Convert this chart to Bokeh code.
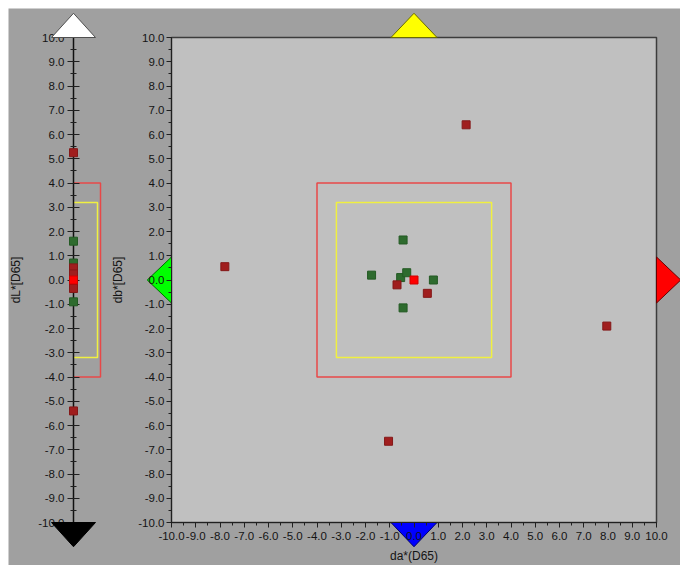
from bokeh.plotting import figure
from bokeh.models import Range1d, LinearAxis, SingleIntervalTicker, PrintfTickFormatter
from bokeh.embed import file_html
from bokeh.resources import INLINE

# ---------------- data ----------------
# standard
std_da = [0.0]
std_db = [0.0]
std_dL = [0.0]
# samples out of tolerance (dark red)
fail_da = [2.15, -7.8, 7.95, -1.05, -0.7, 0.55]
fail_db = [6.4, 0.55, -1.9, -6.65, -0.2, -0.55]
fail_dL = [5.25, -5.4, 0.5, 0.25, -0.1, -0.35]
# samples within tolerance (green)
pass_da = [-0.45, -1.75, -0.55, -0.3, 0.8, -0.45]
pass_db = [1.65, 0.2, 0.1, 0.3, 0.0, -1.15]
pass_dL = [1.6, 0.7, 0.3, 0.1, -0.2, -0.9]
# tolerance boxes
tol_outer = 4.0
tol_inner = 3.2
# axis limits
AX_MIN, AX_MAX = -10.0, 10.0

# ---------------- layout ----------------
OFF_X, OFF_Y = 8, 8          # white page margin (top / left)
W, H = 672, 557
PX = 24.25  # pixels per unit
# page positions of the main plot area
main_left, main_right, main_top, main_bottom = 171, 656, 37, 522
ruler_x = 73
page_l, page_t = OFF_X, OFF_Y
page_r, page_b = page_l + W, page_t + H

x_range = Range1d(AX_MIN - (main_left - page_l) / PX, AX_MAX + (page_r - main_right) / PX)
y_range = Range1d(AX_MIN - (page_b - main_bottom) / PX, AX_MAX + (main_top - page_t) / PX)

BG = "#a0a0a0"
p = figure(width=W, height=H, output_backend="svg", toolbar_location=None,
           x_range=x_range, y_range=y_range, x_axis_location=None, y_axis_location=None,
           min_border=0, background_fill_color=BG, border_fill_color=BG,
           outline_line_color=None, margin=(OFF_Y, 0, 0, OFF_X))
p.extra_x_ranges = {"ruler": Range1d(page_l - ruler_x, page_r - ruler_x)}
p.grid.visible = False

FONT = "Liberation Sans"
LABEL_COLOR = "#141414"


def style_axis(ax, label):
    ax.ticker = SingleIntervalTicker(interval=1, num_minor_ticks=2)
    ax.formatter = PrintfTickFormatter(format="%.1f")
    ax.bounds = (AX_MIN, AX_MAX)
    ax.axis_label = label
    ax.major_label_text_font = FONT
    ax.major_label_text_font_size = "11.5px"
    ax.major_label_text_color = LABEL_COLOR
    ax.axis_label_text_font = FONT
    ax.axis_label_text_font_size = "12px"
    ax.axis_label_text_font_style = "normal"
    ax.axis_label_text_color = LABEL_COLOR
    ax.axis_line_color = "#202020"
    ax.major_tick_line_color = "#202020"
    ax.minor_tick_line_color = "#202020"


# main plot area
p.quad(left=[AX_MIN], right=[AX_MAX], bottom=[AX_MIN], top=[AX_MAX],
       fill_color="#c0c0c0", line_color="#3c3c3c", line_width=1.5)

# direction triangles of the main plot
tri = 0.95
p.patch([-tri, tri, 0], [AX_MAX, AX_MAX, AX_MAX + 1], fill_color="#ffff00", line_color="#6b6b00", line_width=1)
p.patch([-tri, tri, 0], [AX_MIN, AX_MIN, AX_MIN - 1], fill_color="#0000ff", line_color="#00006b", line_width=1)
p.patch([AX_MAX, AX_MAX, AX_MAX + 1], [-tri, tri, 0], fill_color="#ff0000", line_color="#6b0000", line_width=1)
p.patch([AX_MIN, AX_MIN, AX_MIN - 1], [-tri, tri, 0], fill_color="#00ff00", line_color="#006b00", line_width=1)

# tolerance boxes
p.quad(left=[-tol_outer], right=[tol_outer], bottom=[-tol_outer], top=[tol_outer],
       fill_color=None, line_color="#e84848", line_width=1.5)
p.quad(left=[-tol_inner], right=[tol_inner], bottom=[-tol_inner], top=[tol_inner],
       fill_color=None, line_color="#f0f040", line_width=1.5)

# points in the a/b plane
p.scatter(pass_da, pass_db, marker="square", size=8, fill_color="#2e6b2e", line_color="#245a24")
p.scatter(fail_da, fail_db, marker="square", size=8, fill_color="#a01e1e", line_color="#841818")
p.scatter(std_da, std_db, marker="square", size=8, fill_color="#ff0000", line_color="#d00000")

# main axes
xax = LinearAxis(fixed_location=AX_MIN)
style_axis(xax, "da*(D65)")
xax.major_tick_out = 5
xax.major_tick_in = 0
xax.minor_tick_out = 3
xax.minor_tick_in = 0
xax.major_label_standoff = 4
xax.axis_label_standoff = 6
p.add_layout(xax, "below")

yax = LinearAxis(fixed_location=AX_MIN)
style_axis(yax, "db*[D65]")
yax.major_tick_out = 5
yax.major_tick_in = 0
yax.minor_tick_out = 3
yax.minor_tick_in = 0
yax.major_label_standoff = 2
yax.axis_label_standoff = 10
p.add_layout(yax, "left")

# ---------------- lightness ruler ----------------
ruler_outer_w = 27
ruler_inner_w = 24
p.multi_line(xs=[[0, ruler_outer_w, ruler_outer_w, 0], [0, ruler_inner_w, ruler_inner_w, 0]],
             ys=[[tol_outer, tol_outer, -tol_outer, -tol_outer], [tol_inner, tol_inner, -tol_inner, -tol_inner]],
             line_color=["#e84848", "#f0f040"], line_width=1.5, x_range_name="ruler")

lax = LinearAxis(fixed_location=0, x_range_name="ruler")
style_axis(lax, "dL*[D65]")
lax.axis_line_width = 1.5
lax.axis_line_color = "#101010"
lax.major_tick_out = 6
lax.major_tick_in = 6
lax.minor_tick_out = 3
lax.minor_tick_in = 3
lax.major_label_standoff = 3
lax.axis_label_standoff = 12
p.add_layout(lax, "left")

rw = 22
p.patch([-rw, rw, 0], [AX_MAX, AX_MAX, AX_MAX + 1], x_range_name="ruler",
        fill_color="#ffffff", line_color="#505050", line_width=1, level="overlay")
p.patch([-rw, rw, 0], [AX_MIN, AX_MIN, AX_MIN - 1], x_range_name="ruler",
        fill_color="#000000", line_color="#000000", line_width=1, level="overlay")

p.scatter([0] * len(pass_dL), pass_dL, x_range_name="ruler", marker="square", size=8,
          fill_color="#2e6b2e", line_color="#245a24", level="overlay")
p.scatter([0] * len(fail_dL), fail_dL, x_range_name="ruler", marker="square", size=8,
          fill_color="#a01e1e", line_color="#841818", level="overlay")
p.scatter([0] * len(std_dL), std_dL, x_range_name="ruler", marker="square", size=8,
          fill_color="#ff0000", line_color="#d00000", level="overlay")

open("out.html", "w").write(file_html(p, INLINE))
